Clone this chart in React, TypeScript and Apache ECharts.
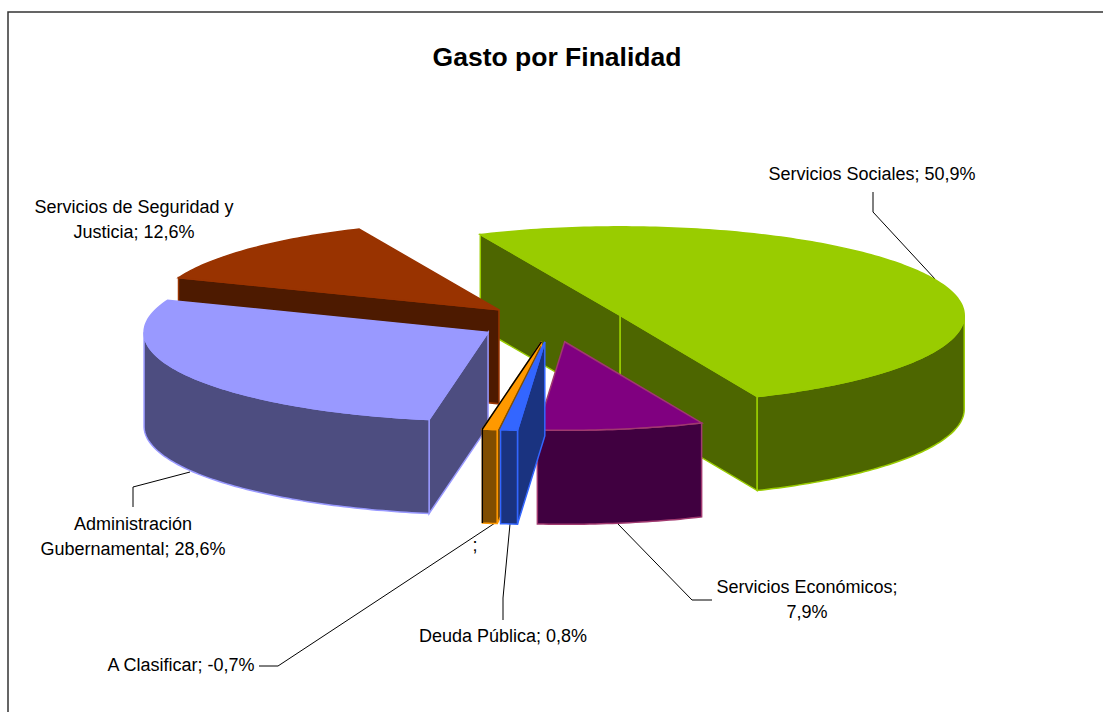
import React, { useEffect, useRef } from "react";
import * as echarts from "echarts";

const titleText = "Gasto por Finalidad";
const categories = ["Servicios Sociales", "Servicios Económicos", "Deuda Pública", "A Clasificar", "Administración Gubernamental", "Servicios de Seguridad y Justicia"];
const seriesValues = [50.9, 7.9, 0.8, -0.7, 28.6, 12.6];
const topColors = ["#99CC00", "#800080", "#3366FF", "#FF9900", "#9999FF", "#993300"];
const wallColors = ["#4D6600", "#400040", "#1A3380", "#804D00", "#4D4D80", "#4D1A00"];
const edgeColors = ["#99CC00", "#A0396F", "#3366FF", "#FF9900", "#9999FF", "#993300"];
const drawOrder = [0, 5, 4, 1, 3, 2];

const FONT = '"Liberation Sans", Arial, sans-serif';
const CX = 552.5, CY = 323, RX = 344, RY = 88.5, EXPLODE = 0.215, DEPTH = 94, START = -24;
const rad = (d: number) => (d * Math.PI) / 180;
const total = seriesValues.reduce((s, v) => s + Math.abs(v), 0);
const sliceAngles = seriesValues.map((_, i) => {
  const before = seriesValues.slice(0, i).reduce((s, v) => s + Math.abs(v), 0);
  return [START + (before / total) * 360, START + ((before + Math.abs(seriesValues[i])) / total) * 360];
});

function renderSlice(params: any, api: any) {
  const i = api.value(1) as number;
  const [a, b] = sliceAngles[i];
  const mid = (a + b) / 2;
  const cx = CX + Math.sin(rad(mid)) * RX * EXPLODE;
  const cy = CY - Math.cos(rad(mid)) * RY * EXPLODE;
  const pt = (d: number, down = 0): number[] => [cx + Math.sin(rad(d)) * RX, cy - Math.cos(rad(d)) * RY + down];
  const arc = (from: number, to: number, down = 0) => {
    const out: number[][] = [];
    const n = Math.max(1, Math.ceil(to - from));
    for (let k = 0; k <= n; k++) out.push(pt(from + ((to - from) * k) / n, down));
    return out;
  };
  const poly = (points: number[][], fill: string, stroke: string) => ({
    type: "polygon",
    shape: { points },
    style: { fill, stroke, lineWidth: 1.5 },
    silent: true,
  });
  const wall = wallColors[i], edge = edgeColors[i], top = topColors[i];
  const children: any[] = [];
  const radial = (d: number) => {
    const p = pt(d);
    children.push(poly([[cx, cy], p, [p[0], p[1] + DEPTH], [cx, cy + DEPTH]], wall, edge));
  };
  if (Math.sin(rad(a)) < 0) radial(a);
  if (Math.sin(rad(b)) > 0) radial(b);
  const from = Math.max(a, 90), to = Math.min(b, 270);
  if (to > from) children.push(poly([...arc(from, to), ...arc(from, to, DEPTH).reverse()], wall, edge));
  children.push(poly([[cx, cy], ...arc(a, b)], top, edge));
  if (seriesValues[i] < 0) {
    const p = pt(b);
    children.push({
      type: "polyline",
      shape: { points: [[cx, cy], p, [p[0], p[1] + DEPTH]] },
      style: { fill: "none", stroke: "#000000", lineWidth: 1.5 },
      silent: true,
    });
  }
  return { type: "group", children };
}

const labelStyle = (text: string, x: number, y: number) => ({
  type: "text",
  x,
  y,
  silent: true,
  style: { text, fill: "#000000", font: `18px ${FONT}`, textAlign: "center", textVerticalAlign: "middle", lineHeight: 25 },
});
const leader = (points: number[][]) => ({
  type: "polyline",
  silent: true,
  shape: { points },
  style: { fill: "none", stroke: "#000000", lineWidth: 1 },
});

export default function App() {
  const ref = useRef<HTMLDivElement>(null);
  useEffect(() => {
    if (!ref.current) return;
    const chart = echarts.init(ref.current, undefined, { renderer: "svg" });
    chart.setOption({
      animation: false,
      backgroundColor: "#FFFFFF",
      series: [
        {
          type: "custom",
          coordinateSystem: "none",
          silent: true,
          renderItem: renderSlice,
          data: drawOrder.map((i) => ({ name: categories[i], value: [Math.abs(seriesValues[i]), i] })),
        },
      ],
      graphic: [
        { type: "polyline", silent: true, shape: { points: [[8, 712], [8, 12], [1103, 12]] }, style: { fill: "none", stroke: "#333333", lineWidth: 1.5 } },
        {
          type: "text", x: 557, y: 57, silent: true,
          style: { text: titleText, fill: "#000000", font: `bold 26.5px ${FONT}`, textAlign: "center", textVerticalAlign: "middle" },
        },
        labelStyle("Servicios Sociales; 50,9%", 872, 174),
        labelStyle("Servicios de Seguridad y\nJusticia; 12,6%", 134, 219),
        labelStyle("Administración\nGubernamental; 28,6%", 133, 536),
        labelStyle("A Clasificar; -0,7%", 181, 665),
        labelStyle("Deuda Pública; 0,8%", 503, 636),
        labelStyle("Servicios Económicos;\n7,9%", 807, 599),
        labelStyle(";", 475, 545),
        leader([[873, 192], [873, 212], [935, 279]]),
        leader([[133, 507], [133, 487], [190, 472]]),
        leader([[259, 666], [278, 666], [495, 523]]),
        leader([[503, 620], [503, 598], [510, 524]]),
        leader([[712, 600], [692, 600], [618, 524]]),
      ],
    });
    return () => chart.dispose();
  }, []);
  return <div ref={ref} style={{ position: "absolute", left: 0, top: 0, width: 1103, height: 712 }} />;
}
